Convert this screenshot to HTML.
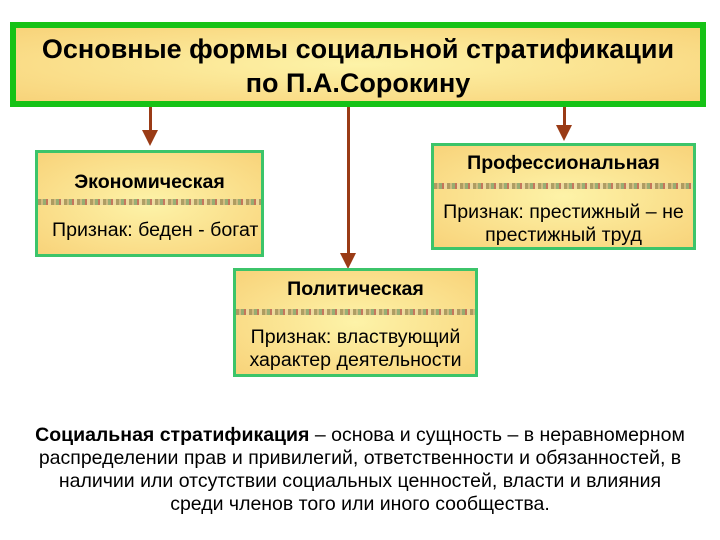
<!DOCTYPE html>
<html><head><meta charset="utf-8"><style>
body{margin:0;width:720px;height:540px;background:#fff;position:relative;font-family:"Liberation Sans","DejaVu Sans",sans-serif;overflow:hidden}
.b{position:absolute;box-sizing:border-box;background:radial-gradient(ellipse at 50% 50%,#fdf3a8,#f8d37a);}
.t{position:absolute;left:10px;top:22px;width:696px;height:85px;border:6px solid #16c216;text-align:center;font-weight:bold;font-size:27px;line-height:34px;padding-top:4px}
.n{border:3px solid #3cc46a;text-align:center;font-size:19.6px}
.h{font-weight:bold;font-size:19.6px}
.s{position:absolute;left:0;right:0;height:6px;background:repeating-linear-gradient(90deg,#9c8a55 0 3px,#c7b27b 3px 5px,#7fa06a 5px 8px,#b95b4c 8px 10px,#e8d7a0 10px 13px);opacity:.8}
.ln{position:absolute;width:3px;background:#9a3b16}
.ar{position:absolute;width:0;height:0;border-left:8px solid transparent;border-right:8px solid transparent;border-top:16px solid #9a3b16}
.f{position:absolute;left:0;width:720px;text-align:center;font-size:19.5px;line-height:23px;top:424px;white-space:nowrap}
</style></head><body>
<div class="b t">Основные формы социальной стратификации<br>по П.А.Сорокину</div>
<div class="ln" style="left:149px;top:107px;height:26px"></div><div class="ar" style="left:142px;top:130px"></div>
<div class="ln" style="left:347px;top:107px;height:148px"></div><div class="ar" style="left:340px;top:253px"></div>
<div class="ln" style="left:563px;top:107px;height:20px"></div><div class="ar" style="left:556px;top:125px"></div>
<div class="b n" style="left:35px;top:150px;width:229px;height:107px"><div class="h" style="position:absolute;left:0;right:0;top:18px;text-align:center">Экономическая</div><div class="s" style="top:46px"></div><div style="position:absolute;left:14px;top:66px;white-space:nowrap;text-align:left">Признак: беден - богат</div></div>
<div class="b n" style="left:431px;top:143px;width:265px;height:107px"><div class="h" style="position:absolute;left:0;right:0;top:6px">Профессиональная</div><div class="s" style="top:37px"></div><div style="position:absolute;left:0;right:0;top:55px;line-height:23px;white-space:nowrap">Признак: престижный – не<br>престижный труд</div></div>
<div class="b n" style="left:233px;top:268px;width:245px;height:109px"><div class="h" style="position:absolute;left:0;right:0;top:7px">Политическая</div><div class="s" style="top:38px"></div><div style="position:absolute;left:0;right:0;top:55px;line-height:23px;white-space:nowrap">Признак: властвующий<br>характер деятельности</div></div>
<div class="f"><b>Социальная стратификация</b> – основа и сущность – в неравномерном<br>распределении прав и привилегий, ответственности и обязанностей, в<br>наличии или отсутствии социальных ценностей, власти и влияния<br>среди членов того или иного сообщества.</div>
</body></html>
